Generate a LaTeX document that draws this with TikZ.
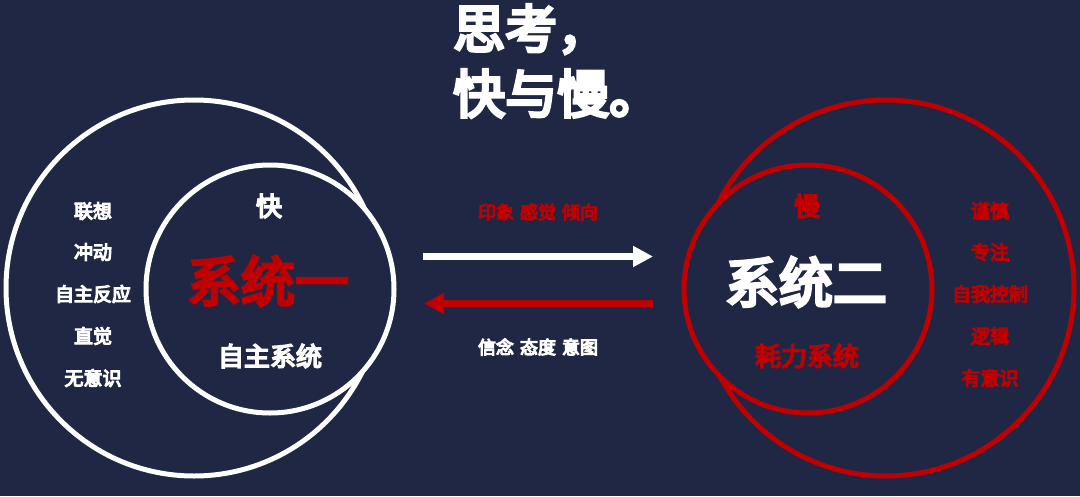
\documentclass[tikz,border=0pt]{standalone}
\usepackage{fontspec}
\newfontfamily\cjk{Noto Sans CJK SC}[FakeBold=6]
\usetikzlibrary{arrows.meta}
\definecolor{bg}{RGB}{31,39,68}
\definecolor{sred}{RGB}{192,0,0}
\tikzset{
  ring/.style={circle, draw, line width=5pt, inner sep=0pt, outer sep=0pt},
  lbl/.style={font=\cjk\fontsize{19}{19}\selectfont, inner sep=0pt},
  mid/.style={font=\cjk\fontsize{26}{26}\selectfont, inner sep=0pt},
  big/.style={font=\cjk\fontsize{54}{54}\selectfont, inner sep=0pt},
  small/.style={font=\cjk\fontsize{18}{18}\selectfont, inner sep=0pt},
  flow/.style={line width=6.5pt, -{Triangle[length=20pt,width=20pt]}}
}
\begin{document}
\begin{tikzpicture}[x=1pt,y=-1pt]
\fill[bg] (0,0) rectangle (1080,496);
\useasboundingbox (0,0) rectangle (1080,496);

% title
\node[anchor=west, align=left, text=white, inner sep=0pt,
      font=\cjk\fontsize{52}{65}\selectfont] (title) at (453,61) {思考，\\快与慢。};

% circles
\node[ring, draw=white, minimum size=376pt] (louter) at (194,288) {};
\node[ring, draw=white, fill=bg, minimum size=248pt] (linner) at (270,289) {};
\node[ring, draw=sred, minimum size=376pt] (router) at (886,288) {};
\node[ring, draw=sred, fill=bg, minimum size=248pt] (rinner) at (808,289) {};

% left texts
\node[lbl, text=white] (l1) at (93,211) {联想};
\node[lbl, text=white] (l2) at (93,252) {冲动};
\node[lbl, text=white] (l3) at (93,294) {自主反应};
\node[lbl, text=white] (l4) at (93,336) {直觉};
\node[lbl, text=white] (l5) at (93,378) {无意识};

\node[mid, text=white] (fast) at (269,206) {快};
\node[big, text=sred] (sys1) at (268,281) {系统一};
\node[mid, text=white] (auto) at (270,356) {自主系统};

% right texts
\node[mid, text=sred] (slow) at (807,206) {慢};
\node[big, text=white] (sys2) at (806,282) {系统二};
\node[mid, text=sred] (effort) at (807,356) {耗力系统};

\node[lbl, text=sred] (r1) at (990,211) {谨慎};
\node[lbl, text=sred] (r2) at (990,252) {专注};
\node[lbl, text=sred] (r3) at (990,294) {自我控制};
\node[lbl, text=sred] (r4) at (990,336) {逻辑};
\node[lbl, text=sred] (r5) at (990,378) {有意识};

% arrows
\coordinate (a1s) at (423,256.5);
\coordinate (a1e) at (653,256.5);
\coordinate (a2s) at (653,303.5);
\coordinate (a2e) at (424,303.5);
\draw[flow, white] (a1s) -- (a1e);
\draw[flow, sred] (a2s) -- (a2e);

\node[small, text=sred] (top) at (538,212) {印象\hspace{6pt}感觉\hspace{6pt}倾向};
\node[small, text=white] (bot) at (538,347) {信念\hspace{6pt}态度\hspace{6pt}意图};
\end{tikzpicture}
\end{document}
